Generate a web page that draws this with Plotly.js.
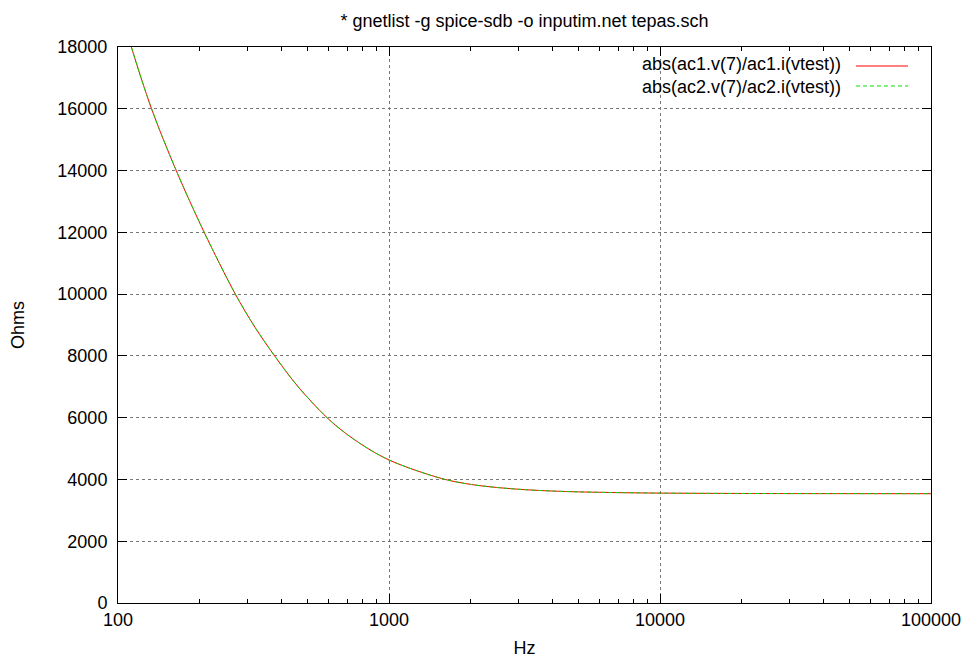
<!DOCTYPE html>
<html>
<head>
<meta charset="utf-8">
<script src="https://cdn.plot.ly/plotly-3.0.1.min.js"></script>
<style>
  html, body { margin: 0; padding: 0; background: #fff; }
  #chart { width: 969px; height: 658px; }
</style>
</head>
<body>
<div id="chart"></div>
<script>
// Frequency (Hz) and impedance magnitude (Ohms)
const freqHz = [100, 112, 133, 164, 208, 271, 320, 382, 460, 589, 700, 851, 1000, 1250, 1611, 2000, 2500, 3162, 4000, 5000, 6310, 10000, 20000, 50000, 100000];
const ac1Ohms = [19500, 18000, 16000, 14000, 12000, 10000, 8930, 7950, 7020, 6010, 5460, 4960, 4630, 4300, 4000, 3840, 3740, 3670, 3625, 3598, 3580, 3558, 3546, 3541, 3539];
const ac2Ohms = [19500, 18000, 16000, 14000, 12000, 10000, 8930, 7950, 7020, 6010, 5460, 4960, 4630, 4300, 4000, 3840, 3740, 3670, 3625, 3598, 3580, 3558, 3546, 3541, 3539];
const seriesNames = ["abs(ac1.v(7)/ac1.i(vtest))", "abs(ac2.v(7)/ac2.i(vtest))"];
const xTickVals = [100, 1000, 10000, 100000];
const xTickText = ["100", "1000", "10000", "100000"];
const yTickVals = [0, 2000, 4000, 6000, 8000, 10000, 12000, 14000, 16000, 18000];
const yTickText = ["0", "2000", "4000", "6000", "8000", "10000", "12000", "14000", "16000", "18000"];

const FONT = "Liberation Sans, Arial, Helvetica, sans-serif";
const FS = 18;

const traces = [
  { x: freqHz, y: ac1Ohms, name: seriesNames[0], type: "scatter", mode: "lines",
    line: { color: "#ff0000", width: 1, shape: "spline", smoothing: 0.9 } },
  { x: freqHz, y: ac2Ohms, name: seriesNames[1], type: "scatter", mode: "lines",
    line: { color: "#00e000", width: 1, dash: "4px,3px", shape: "spline", smoothing: 0.9 } }
];

// Legend drawn gnuplot-style: text right-aligned, line sample to its right
const legendRowY = [0.9658, 0.9299];
const annotations = [{
  text: seriesNames.join("<br>"), xref: "paper", yref: "paper",
  x: 0.8918, y: (legendRowY[0] + legendRowY[1]) / 2,
  xanchor: "right", yanchor: "middle", align: "right", showarrow: false,
  font: { family: FONT, size: FS, color: "#000" }
}];
const shapes = [
  { type: "line", xref: "paper", yref: "paper", x0: 0.9077, x1: 0.9717, y0: legendRowY[0], y1: legendRowY[0],
    line: { color: "#ff0000", width: 1 } },
  { type: "line", xref: "paper", yref: "paper", x0: 0.9077, x1: 0.9717, y0: legendRowY[1], y1: legendRowY[1],
    line: { color: "#00e000", width: 1, dash: "4px,3px" } }
];

const layout = {
  width: 969, height: 658,
  margin: { l: 118, r: 38, t: 47, b: 55 },
  paper_bgcolor: "#fff", plot_bgcolor: "#fff",
  showlegend: false,
  font: { family: FONT, size: FS, color: "#000" },
  title: { text: "* gnetlist -g spice-sdb -o inputim.net tepas.sch",
    x: 0.5, xref: "paper", y: 0.969, yref: "container", yanchor: "middle",
    font: { family: FONT, size: FS, color: "#000" } },
  xaxis: {
    type: "log", range: [2, 5],
    tickmode: "array", tickvals: xTickVals, ticktext: xTickText,
    ticks: "inside", ticklen: 9, tickcolor: "#000", tickwidth: 1,
    showline: true, mirror: "ticks", linecolor: "#000", linewidth: 1,
    showgrid: true, gridcolor: "#777", griddash: "dot", gridwidth: 1,
    minor: { dtick: "D1", ticks: "inside", ticklen: 4, tickcolor: "#000", showgrid: false },
    zeroline: false,
    title: { text: "Hz", standoff: 14, font: { family: FONT, size: FS } },
    tickfont: { family: FONT, size: FS }
  },
  yaxis: {
    range: [0, 18000],
    tickmode: "array", tickvals: yTickVals, ticktext: yTickText,
    ticks: "inside", ticklen: 9, tickcolor: "#000", tickwidth: 1,
    ticklabelstandoff: 6,
    showline: true, mirror: "ticks", linecolor: "#000", linewidth: 1,
    showgrid: true, gridcolor: "#777", griddash: "dot", gridwidth: 1,
    zeroline: false,
    title: { text: "Ohms", standoff: 28, font: { family: FONT, size: FS } },
    tickfont: { family: FONT, size: FS }
  },
  annotations: annotations,
  shapes: shapes
};

Plotly.newPlot("chart", traces, layout, { displayModeBar: false, staticPlot: true });
</script>
</body>
</html>
